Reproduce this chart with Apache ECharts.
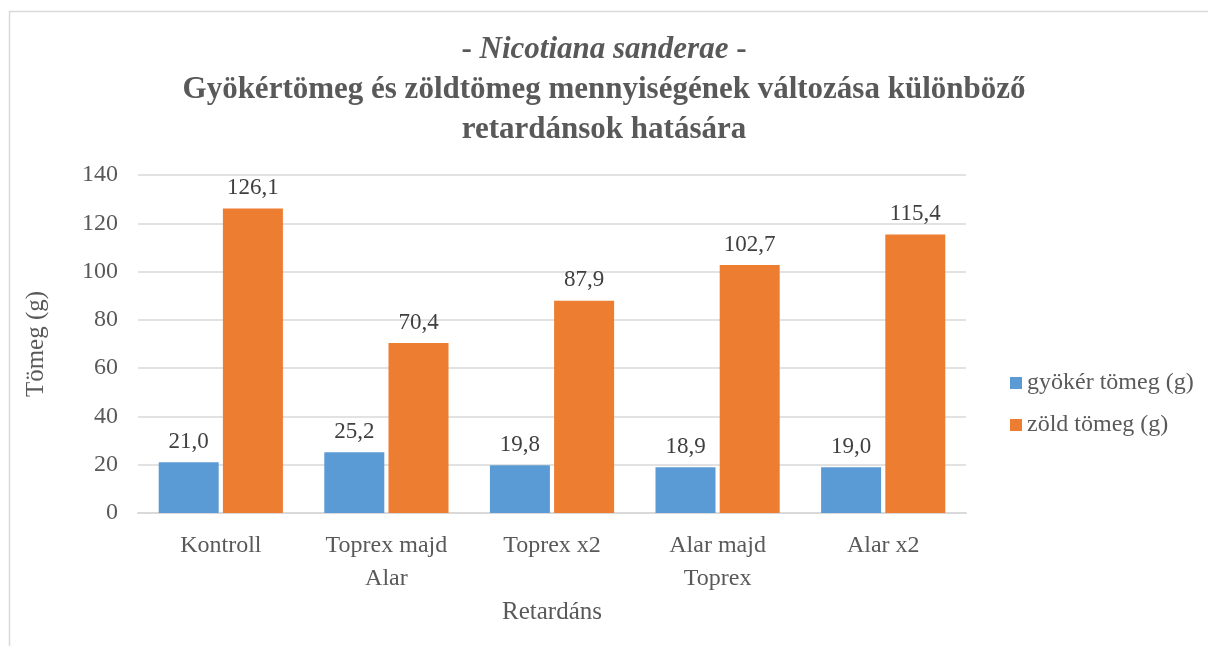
<!DOCTYPE html>
<html>
<head>
<meta charset="utf-8">
<script src="https://cdn.jsdelivr.net/npm/echarts@6/dist/echarts.min.js"></script>
<style>
html, body { margin: 0; padding: 0; background: #fff; }
#chart { width: 1208px; height: 646px; }
</style>
</head>
<body>
<div id="chart"></div>
<script>
var categories = ['Kontroll', 'Toprex majd\nAlar', 'Toprex x2', 'Alar majd\nToprex', 'Alar x2'];
var gyokerTomeg = [21.0, 25.2, 19.8, 18.9, 19.0];
var zoldTomeg = [126.1, 70.4, 87.9, 102.7, 115.4];
var seriesNames = ['gyökér tömeg (g)', 'zöld tömeg (g)'];

var font = '"Liberation Serif", "Times New Roman", serif';
var chart = echarts.init(document.getElementById('chart'));

// 21.0 -> "21,0"
var labelFmt = function (p) {
	return p.value.toFixed(1).replace('.', ',');
};
var labelStyle = {
	show: true,
	position: 'top',
	distance: 9,
	formatter: labelFmt,
	fontFamily: font,
	fontSize: 23,
	color: '#404040'
};

option = {
	textStyle: { fontFamily: font },
	graphic: [{
		type: 'polyline',
		shape: { points: [[9.5, 660], [9.5, 11.5], [1208, 11.5]] },
		style: { fill: 'none', stroke: '#d9d9d9', lineWidth: 1.5 },
		silent: true
	}],
	title: {
		text: '{n|- }{i|Nicotiana sanderae}{n| -}\nGyökértömeg és zöldtömeg mennyiségének változása különböző\nretardánsok hatására',
		left: 'center',
		top: 25,
		textStyle: {
			fontFamily: font,
			fontSize: 31,
			fontWeight: 'bold',
			color: '#595959',
			lineHeight: 40,
			rich: {
				n: { fontFamily: font, fontSize: 31, fontWeight: 'bold', color: '#595959', lineHeight: 40 },
				i: { fontFamily: font, fontSize: 31, fontWeight: 'bold', fontStyle: 'italic', color: '#595959', lineHeight: 40 }
			}
		}
	},
	legend: {
		orient: 'vertical',
		left: 1005,
		top: 366,
		itemWidth: 12,
		itemHeight: 12,
		itemGap: 18,
		icon: 'rect',
		textStyle: { fontFamily: font, fontSize: 24, color: '#595959' },
		data: seriesNames
	},
	grid: {
		left: 138,
		right: 242,
		top: 175,
		bottom: 133
	},
	xAxis: {
		type: 'category',
		data: categories,
		name: 'Retardáns',
		nameLocation: 'middle',
		nameGap: 70,
		nameTextStyle: { fontFamily: font, fontSize: 25, color: '#595959' },
		axisTick: { show: false },
		axisLine: { lineStyle: { color: '#d9d9d9', width: 2 } },
		axisLabel: { fontFamily: font, fontSize: 24, color: '#595959', margin: 16, lineHeight: 33 }
	},
	yAxis: {
		type: 'value',
		min: 0,
		max: 140,
		interval: 20,
		name: 'Tömeg (g)',
		nameLocation: 'middle',
		nameGap: 89,
		nameTextStyle: { fontFamily: font, fontSize: 25, color: '#595959' },
		axisLine: { show: false },
		axisTick: { show: false },
		splitLine: { lineStyle: { color: '#d9d9d9', width: 1.5 } },
		axisLabel: { fontFamily: font, fontSize: 24, color: '#595959', margin: 20 }
	},
	color: ['#5b9bd5', '#ed7d31'],
	series: [{
		name: seriesNames[0],
		type: 'bar',
		data: gyokerTomeg,
		barGap: '7%',
		barCategoryGap: '25%',
		label: labelStyle
	}, {
		name: seriesNames[1],
		type: 'bar',
		data: zoldTomeg,
		label: labelStyle
	}]
};
chart.setOption(option);
window.addEventListener("resize", function() {
	chart.resize();
});
</script>
</body>
</html>
